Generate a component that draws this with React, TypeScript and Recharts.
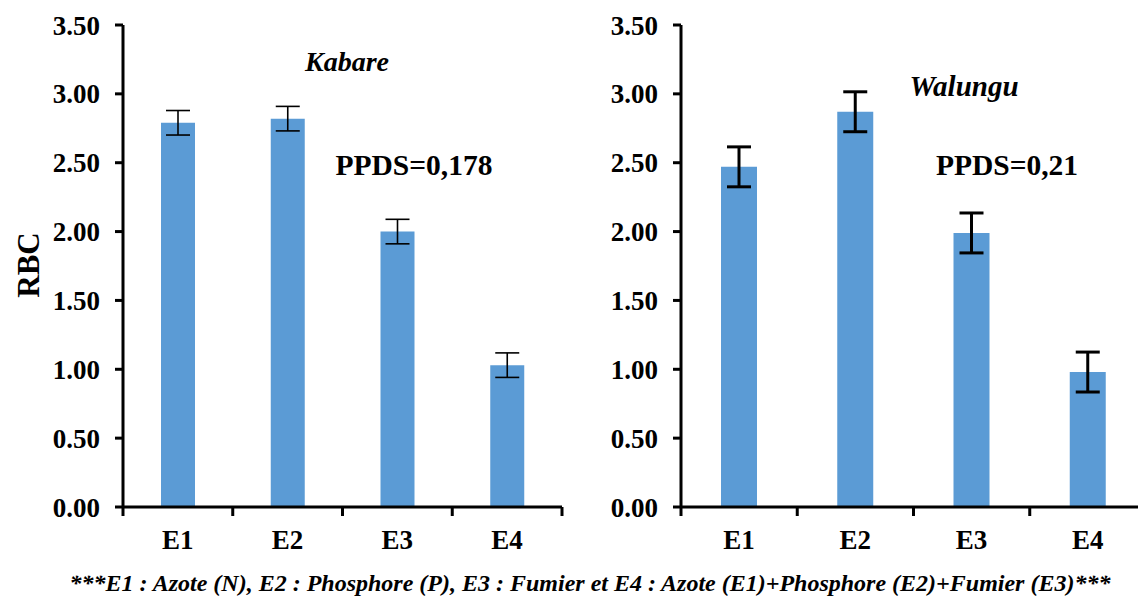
import React from "react";
import { BarChart, Bar, XAxis, YAxis, ErrorBar } from "recharts";

const categories = ["E1", "E2", "E3", "E4"];
const kabareValues = [2.79, 2.82, 2.0, 1.03];
const kabareErrors = [0.089, 0.089, 0.089, 0.089];
const walunguValues = [2.47, 2.87, 1.99, 0.98];
const walunguErrors = [0.145, 0.145, 0.145, 0.145];
const yTicks = [0, 0.5, 1, 1.5, 2, 2.5, 3, 3.5];

const FONT = "Liberation Serif";
const BAR_COLOR = "#5B9BD5";

const kabareData = categories.map((c, i) => ({ name: c, value: kabareValues[i], err: kabareErrors[i] }));
const walunguData = categories.map((c, i) => ({ name: c, value: walunguValues[i], err: walunguErrors[i] }));

const boldText = { fontFamily: FONT, fontWeight: "bold" as const };

// x tick: label at centre, tick marks at the category boundaries
function makeTick(band: number) {
  return (props: any) => {
    const { x, payload, index } = props;
    const axisY = 507;
    return (
      <g>
        <line x1={x - band / 2} x2={x - band / 2} y1={axisY} y2={axisY + 9} stroke="#000" strokeWidth={3} />
        {index === categories.length - 1 && (
          <line x1={x + band / 2} x2={x + band / 2} y1={axisY} y2={axisY + 9} stroke="#000" strokeWidth={3} />
        )}
        <text x={x} y={axisY + 42} textAnchor="middle" style={{ ...boldText, fontSize: 27 }} fill="#000">
          {payload.value}
        </text>
      </g>
    );
  };
}

type PanelProps = {
  data: { name: string; value: number; err: number }[];
  width: number;
  yAxisWidth: number;
  rightMargin: number;
  barSize: number;
  errWidth: number;
};

function Panel({ data, width, yAxisWidth, rightMargin, barSize, errWidth }: PanelProps) {
  const band = (width - yAxisWidth - rightMargin) / categories.length;
  return (
    <BarChart width={width} height={598} data={data} margin={{ top: 25, right: rightMargin, left: 0, bottom: 31 }}>
      <YAxis
        width={yAxisWidth}
        domain={[0, 3.5]}
        ticks={yTicks}
        interval={0}
        tickFormatter={(v: number) => v.toFixed(2)}
        axisLine={{ stroke: "#000", strokeWidth: 3 }}
        tickLine={{ stroke: "#000", strokeWidth: 3 }}
        tickSize={8}
        tickMargin={15}
        tick={{ fill: "#000", style: { ...boldText, fontSize: 27 } }}
      />
      <XAxis
        dataKey="name"
        axisLine={{ stroke: "#000", strokeWidth: 3 }}
        tickLine={false}
        height={60}
        tick={makeTick(band)}
        interval={0}
      />
      <Bar dataKey="value" fill={BAR_COLOR} barSize={barSize} isAnimationActive={false}>
        <ErrorBar dataKey="err" width={12} stroke="#000" strokeWidth={errWidth} direction="y" />
      </Bar>
    </BarChart>
  );
}

export default function App() {
  return (
    <div style={{ position: "absolute", left: 0, top: 0, width: 1138, height: 598, overflow: "hidden", background: "#fff", fontFamily: FONT }}>
      <div style={{ position: "absolute", left: 0, top: 0 }}>
        <Panel data={kabareData} width={570} yAxisWidth={123} rightMargin={8} barSize={34} errWidth={1.6} />
      </div>
      <div style={{ position: "absolute", left: 560, top: 0 }}>
        <Panel data={walunguData} width={600} yAxisWidth={121} rightMargin={14} barSize={36} errWidth={3} />
      </div>
      <svg width={1138} height={598} style={{ position: "absolute", left: 0, top: 0, pointerEvents: "none" }}>
        <text x={347} y={71} textAnchor="middle" style={{ ...boldText, fontStyle: "italic", fontSize: 28 }} fill="#000">
          Kabare
        </text>
        <text x={964} y={96} textAnchor="middle" style={{ ...boldText, fontStyle: "italic", fontSize: 29 }} fill="#000">
          Walungu
        </text>
        <text x={414} y={175} textAnchor="middle" style={{ ...boldText, fontSize: 29.5 }} fill="#000">
          PPDS=0,178
        </text>
        <text x={1007} y={175} textAnchor="middle" style={{ ...boldText, fontSize: 29.5 }} fill="#000">
          PPDS=0,21
        </text>
        <text x={39} y={265} transform="rotate(-90 39 265)" textAnchor="middle" style={{ ...boldText, fontSize: 31 }} fill="#000">
          RBC
        </text>
        <text x={590} y={591} textAnchor="middle" style={{ ...boldText, fontStyle: "italic", fontSize: 24 }} fill="#000">
          ***E1 : Azote (N), E2 : Phosphore (P), E3 : Fumier et E4 : Azote (E1)+Phosphore (E2)+Fumier (E3)***
        </text>
      </svg>
    </div>
  );
}
